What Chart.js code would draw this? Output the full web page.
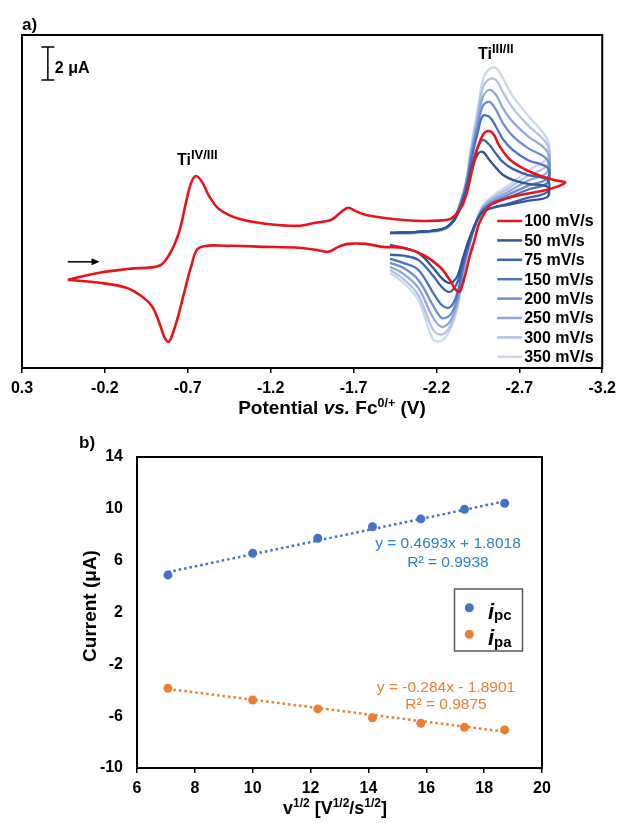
<!DOCTYPE html>
<html>
<head>
<meta charset="utf-8">
<script src="https://cdn.jsdelivr.net/npm/chart.js@4.4.0/dist/chart.umd.min.js"></script>
<style>
  html, body { margin: 0; padding: 0; background: #fff; }
  #wrap { position: relative; width: 622px; height: 823px; }
  #cv-box { position: absolute; left: 0; top: 0; width: 622px; height: 425px; }
  #fit-box { position: absolute; left: 0; top: 425px; width: 622px; height: 398px; }
</style>
</head>
<body>
<div id="wrap">
  <div id="cv-box"><canvas id="cv-chart"></canvas></div>
  <div id="fit-box"><canvas id="fit-chart"></canvas></div>
</div>
<script>
  // ---- panel a) cyclic voltammograms ----
  var RATES = ['100 mV/s', '50 mV/s', '75 mV/s', '150 mV/s', '200 mV/s', '250 mV/s', '300 mV/s', '350 mV/s'];
  var COLORS = ['#e8141c', '#2f5597', '#3a63ad', '#4a72c0', '#6f8fcf', '#90aadc', '#b0c2e6', '#cdd8ee'];
  var E_TICKS = [0.3, -0.2, -0.7, -1.2, -1.7, -2.2, -2.7, -3.2];

  // 100 mV/s, full window (V vs Fc, uA)
  var RED_E = [0.024, -0.168, -0.348, -0.528, -0.588, -0.648, -0.690, -0.720, -0.750, -0.786, -0.828, -0.888,
    -1.008, -1.170, -1.368, -1.470, -1.566, -1.626, -1.668, -1.710, -1.770, -1.878, -2.076, -2.268, -2.316,
    -2.358, -2.388, -2.418, -2.448, -2.484, -2.514, -2.544, -2.580, -2.646, -2.766, -2.910, -2.976,
    -2.868, -2.706, -2.610, -2.526, -2.490, -2.454, -2.430, -2.400, -2.370, -2.340, -2.316, -2.280, -2.220,
    -2.118, -1.998, -1.878, -1.770, -1.668, -1.608, -1.548, -1.470, -1.368, -1.170, -0.948, -0.768, -0.720,
    -0.678, -0.636, -0.600, -0.582, -0.558, -0.528, -0.486, -0.426, -0.330, -0.168, 0.024];
  var RED_I = [-2.85, -2.42, -2.18, -2.00, -1.33, 0.06, 1.88, 3.03, 3.45, 3.09, 2.24, 1.45,
    0.85, 0.55, 0.42, 0.61, 0.79, 1.27, 1.52, 1.33, 1.09, 0.91, 0.73, 0.79, 1.09,
    1.70, 2.61, 3.94, 5.15, 6.00, 6.18, 6.00, 5.27, 4.42, 3.70, 3.21, 3.03,
    2.61, 2.30, 2.06, 1.70, 1.21, 0.48, -0.42, -1.45, -2.67, -3.58, -3.45, -2.85, -2.06,
    -1.33, -0.91, -0.85, -0.67, -0.67, -0.85, -1.15, -1.03, -0.91, -0.85, -0.79, -0.91, -2.06,
    -3.64, -5.27, -6.36, -6.61, -6.30, -5.45, -4.48, -3.88, -3.33, -3.03, -2.85];

  // other scan rates, Ti(III/II) window only: forward then reverse sweep
  var FWD_E = [-1.92, -2.09, -2.24, -2.30, -2.34, -2.38, -2.41, -2.45, -2.48, -2.52, -2.56, -2.60, -2.66, -2.75, -2.87];
  var REV_E = [-2.87, -2.75, -2.63, -2.54, -2.48, -2.44, -2.40, -2.36, -2.33, -2.30, -2.27, -2.23, -2.18, -2.09, -2.00, -1.92];
  var FWD_I = [
    [0, 0.06, 0.24, 0.67, 1.39, 2.42, 3.70, 4.79, 4.91, 4.42, 3.94, 3.52, 3.21, 2.97, 2.79],
    [0, 0.06, 0.24, 0.67, 1.45, 2.61, 4.00, 5.21, 5.64, 5.33, 4.79, 4.30, 3.88, 3.52, 3.21],
    [0, 0.06, 0.24, 0.73, 1.58, 2.85, 4.42, 6.12, 7.09, 7.03, 6.42, 5.70, 5.03, 4.42, 3.94],
    [0, 0.06, 0.24, 0.73, 1.64, 2.97, 4.67, 6.55, 7.70, 7.94, 7.45, 6.67, 5.88, 5.15, 4.42],
    [0, 0.06, 0.24, 0.73, 1.70, 3.09, 4.91, 6.91, 8.24, 8.67, 8.36, 7.58, 6.73, 5.88, 4.91],
    [-0.06, 0, 0.18, 0.67, 1.70, 3.15, 5.09, 7.27, 8.79, 9.33, 9.27, 8.55, 7.58, 6.55, 5.33],
    [-0.06, 0, 0.18, 0.67, 1.70, 3.21, 5.27, 7.58, 9.27, 9.94, 10.00, 9.39, 8.30, 7.15, 5.64]
  ];
  var REV_I = [
    [2.18, 1.94, 1.70, 1.52, 1.27, 0.67, -0.30, -1.52, -2.55, -2.97, -3.03, -2.73, -2.12, -1.21, -0.91, -0.73],
    [2.48, 2.12, 1.76, 1.52, 1.27, 0.61, -0.42, -1.76, -2.91, -3.45, -3.58, -3.27, -2.61, -1.64, -1.39, -1.33],
    [3.03, 2.61, 2.12, 1.76, 1.39, 0.67, -0.55, -2.06, -3.52, -4.30, -4.55, -4.36, -3.64, -2.24, -1.82, -1.58],
    [3.33, 2.85, 2.30, 1.88, 1.45, 0.67, -0.61, -2.24, -3.82, -4.73, -5.09, -5.15, -4.42, -2.85, -2.12, -1.82],
    [3.70, 3.15, 2.48, 2.00, 1.52, 0.67, -0.67, -2.36, -4.06, -5.03, -5.52, -5.70, -5.15, -3.33, -2.48, -2.06],
    [4.12, 3.45, 2.67, 2.12, 1.58, 0.67, -0.73, -2.48, -4.24, -5.27, -5.88, -6.18, -5.88, -3.76, -2.79, -2.24],
    [4.55, 3.76, 2.85, 2.24, 1.64, 0.67, -0.79, -2.61, -4.42, -5.45, -6.12, -6.55, -6.48, -4.06, -3.03, -2.42]
  ];

  // ---- panel b) peak current vs sqrt(scan rate) ----
  var SQRT_V = [7.07, 10.0, 12.25, 14.14, 15.81, 17.32, 18.71];
  var I_PC = [4.90, 6.57, 7.73, 8.62, 9.22, 9.96, 10.43];
  var I_PA = [-3.85, -4.75, -5.44, -6.12, -6.55, -6.86, -7.06];
  var FIT_X = [7.07, 18.71];
  var FIT_PC = [5.12, 10.58];
  var FIT_PA = [-3.90, -7.20];

  var FAM = '"Liberation Sans", Arial, sans-serif';
  Chart.defaults.font.family = FAM;
  Chart.defaults.color = '#000';

  function pts(xs, ys) {
    return xs.map(function (x, k) { return { x: x, y: ys[k] }; });
  }

  // draws a run of text pieces (font / colour / baseline shift per piece)
  function drawParts(ctx, x, y, parts, align) {
    var w = 0;
    parts.forEach(function (p) { ctx.font = p.font; w += ctx.measureText(p.t).width; });
    var cx = align === 'center' ? x - w / 2 : x;
    ctx.textAlign = 'left';
    ctx.textBaseline = 'alphabetic';
    parts.forEach(function (p) {
      ctx.font = p.font;
      ctx.fillStyle = p.color || '#000';
      ctx.fillText(p.t, cx, y + (p.dy || 0));
      cx += ctx.measureText(p.t).width;
    });
  }

  function f(style, size) { return style + ' ' + size + 'px ' + FAM; }

  // frame, scale bar, arrow, labels and legend for the CV panel
  var cvDecor = {
    id: 'cvDecor',
    afterDatasetsDraw: function (chart) {
      var ctx = chart.ctx, a = chart.chartArea, xs = chart.scales.x, ys = chart.scales.y;
      ctx.save();
      ctx.strokeStyle = '#000';
      ctx.lineWidth = 2;
      ctx.strokeRect(a.left, a.top, a.right - a.left, a.bottom - a.top);

      // 2 uA scale bar
      var bx = xs.getPixelForValue(0.144), b0 = ys.getPixelForValue(9.27), b1 = ys.getPixelForValue(11.27);
      ctx.lineWidth = 1.5;
      ctx.beginPath();
      ctx.moveTo(bx, b0); ctx.lineTo(bx, b1);
      ctx.moveTo(bx - 6.5, b0); ctx.lineTo(bx + 6.5, b0);
      ctx.moveTo(bx - 6.5, b1); ctx.lineTo(bx + 6.5, b1);
      ctx.stroke();
      drawParts(ctx, bx + 7, 73, [{ t: '2 μA', font: f('bold', 16) }]);

      // scan direction arrow
      var ax0 = xs.getPixelForValue(0.024), ax1 = xs.getPixelForValue(-0.168), ay = ys.getPixelForValue(-1.76);
      ctx.beginPath();
      ctx.moveTo(ax0, ay); ctx.lineTo(ax1 - 5, ay);
      ctx.stroke();
      ctx.fillStyle = '#000';
      ctx.beginPath();
      ctx.moveTo(ax1, ay); ctx.lineTo(ax1 - 8, ay - 3.5); ctx.lineTo(ax1 - 8, ay + 3.5);
      ctx.closePath();
      ctx.fill();

      drawParts(ctx, 22, 30, [{ t: 'a)', font: f('bold', 17) }]);
      drawParts(ctx, 177, 165, [{ t: 'Ti', font: f('bold', 16) }, { t: 'IV/III', font: f('bold', 13), dy: -6 }]);
      drawParts(ctx, 478, 59, [{ t: 'Ti', font: f('bold', 16) }, { t: 'III/II', font: f('bold', 13), dy: -6 }]);
      drawParts(ctx, 332, 414, [
        { t: 'Potential ', font: f('bold', 19) },
        { t: 'vs.', font: f('italic bold', 19) },
        { t: ' Fc', font: f('bold', 19) },
        { t: '0/+', font: f('bold', 12.5), dy: -7 },
        { t: ' (V)', font: f('bold', 19) }
      ], 'center');

      // legend
      var lx = a.right - 105, ly = a.top + 186;
      chart.data.datasets.forEach(function (ds, k) {
        var yy = ly + k * 19.4;
        ctx.strokeStyle = ds.borderColor;
        ctx.lineWidth = 2.5;
        ctx.beginPath();
        ctx.moveTo(lx, yy); ctx.lineTo(lx + 25, yy);
        ctx.stroke();
        ctx.fillStyle = '#000';
        ctx.font = f('bold', 16);
        ctx.textBaseline = 'middle';
        ctx.fillText(ds.label, lx + 27, yy + 1);
      });
      ctx.restore();
    }
  };

  var cvSets = [{
    label: RATES[0], data: pts(RED_E, RED_I), borderColor: COLORS[0], borderWidth: 2.6
  }];
  for (var r = 0; r < FWD_I.length; r++) {
    cvSets.push({
      label: RATES[r + 1],
      data: pts(FWD_E, FWD_I[r]).concat(pts(REV_E, REV_I[r])),
      borderColor: COLORS[r + 1],
      borderWidth: 2.3
    });
  }
  cvSets.forEach(function (ds) {
    ds.showLine = true;
    ds.pointRadius = 0;
    ds.tension = 0.35;
    ds.fill = false;
  });

  new Chart(document.getElementById('cv-chart'), {
    type: 'scatter',
    data: { datasets: cvSets },
    options: {
      responsive: true,
      maintainAspectRatio: false,
      animation: false,
      layout: { padding: { left: 22, right: 17, top: 35, bottom: 0 } },
      plugins: { legend: { display: false }, tooltip: { enabled: false } },
      scales: {
        x: {
          type: 'linear', min: -3.2, max: 0.3, reverse: true,
          afterBuildTicks: function (scale) {
            scale.ticks = E_TICKS.map(function (v) { return { value: v }; });
          },
          afterFit: function (scale) { scale.height = 57; },
          ticks: {
            font: { size: 16, weight: 'bold' }, color: '#000', padding: 6, maxRotation: 0, autoSkip: false,
            callback: function (v) { return v.toFixed(1); }
          },
          grid: { drawOnChartArea: false, drawTicks: true, tickLength: 5, color: '#000', lineWidth: 1.5 },
          border: { display: false }
        },
        y: { type: 'linear', min: -8.2, max: 12, display: false }
      }
    },
    plugins: [cvDecor]
  });

  // frame, labels, equations and legend for the fit panel
  var fitDecor = {
    id: 'fitDecor',
    afterDatasetsDraw: function (chart) {
      var ctx = chart.ctx, a = chart.chartArea;
      ctx.save();
      ctx.strokeStyle = '#000';
      ctx.lineWidth = 2;
      ctx.strokeRect(a.left, a.top, a.right - a.left, a.bottom - a.top);

      drawParts(ctx, 79, 23, [{ t: 'b)', font: f('bold', 17) }]);
      drawParts(ctx, 335, 389, [
        { t: 'v', font: f('bold', 18) },
        { t: '1/2', font: f('bold', 12), dy: -7 },
        { t: ' [V', font: f('bold', 18) },
        { t: '1/2', font: f('bold', 12), dy: -7 },
        { t: '/s', font: f('bold', 18) },
        { t: '1/2', font: f('bold', 12), dy: -7 },
        { t: ']', font: f('bold', 18) }
      ], 'center');

      ctx.save();
      ctx.translate(96, 181);
      ctx.rotate(-Math.PI / 2);
      drawParts(ctx, 0, 0, [{ t: 'Current (μA)', font: f('bold', 19) }], 'center');
      ctx.restore();

      drawParts(ctx, 448, 123, [{ t: 'y = 0.4693x + 1.8018', font: f('normal', 15.5), color: '#2e7fc4' }], 'center');
      drawParts(ctx, 448, 142, [{ t: 'R² = 0.9938', font: f('normal', 15.5), color: '#2e7fc4' }], 'center');
      drawParts(ctx, 446, 267, [{ t: 'y = -0.284x - 1.8901', font: f('normal', 15.5), color: '#ed7d31' }], 'center');
      drawParts(ctx, 446, 284, [{ t: 'R² = 0.9875', font: f('normal', 15.5), color: '#ed7d31' }], 'center');

      // legend box
      ctx.strokeStyle = '#595959';
      ctx.lineWidth = 1.5;
      ctx.strokeRect(454.5, 164, 68, 62);
      var rows = [{ ds: chart.data.datasets[0], sub: 'pc', y: 182.7 }, { ds: chart.data.datasets[1], sub: 'pa', y: 209.3 }];
      rows.forEach(function (row) {
        ctx.fillStyle = row.ds.backgroundColor;
        ctx.beginPath();
        ctx.arc(469.3, row.y, 4.5, 0, Math.PI * 2);
        ctx.fill();
        drawParts(ctx, 488, row.y + 11, [
          { t: 'i', font: f('italic bold', 22) },
          { t: row.sub, font: f('bold', 15), dy: 1.5 }
        ]);
      });
      ctx.restore();
    }
  };

  new Chart(document.getElementById('fit-chart'), {
    type: 'scatter',
    data: {
      datasets: [
        { label: 'ipc', data: pts(SQRT_V, I_PC), backgroundColor: '#4472c4', borderColor: '#4472c4', pointRadius: 4.5, borderWidth: 0 },
        { label: 'ipa', data: pts(SQRT_V, I_PA), backgroundColor: '#ed7d31', borderColor: '#ed7d31', pointRadius: 4.5, borderWidth: 0 },
        { label: 'fit ipc', data: pts(FIT_X, FIT_PC), showLine: true, pointRadius: 0, borderColor: '#4472c4', borderWidth: 2.5, borderDash: [2.5, 3] },
        { label: 'fit ipa', data: pts(FIT_X, FIT_PA), showLine: true, pointRadius: 0, borderColor: '#ed7d31', borderWidth: 2.5, borderDash: [2.5, 3] }
      ]
    },
    options: {
      responsive: true,
      maintainAspectRatio: false,
      animation: false,
      layout: { padding: { left: 0, right: 80, top: 32, bottom: 0 } },
      plugins: { legend: { display: false }, tooltip: { enabled: false } },
      scales: {
        x: {
          type: 'linear', min: 6, max: 20,
          afterFit: function (scale) { scale.height = 55; },
          ticks: { stepSize: 2, font: { size: 16, weight: 'bold' }, color: '#000', padding: 6, maxRotation: 0 },
          grid: { drawOnChartArea: false, drawTicks: true, tickLength: 5, color: '#000', lineWidth: 1.5 },
          border: { display: false }
        },
        y: {
          type: 'linear', min: -10, max: 14,
          afterFit: function (scale) { scale.width = 137; },
          ticks: { stepSize: 4, font: { size: 16, weight: 'bold' }, color: '#000', padding: 14 },
          grid: { display: false, drawTicks: false },
          border: { display: false }
        }
      }
    },
    plugins: [fitDecor]
  });
</script>
</body>
</html>
